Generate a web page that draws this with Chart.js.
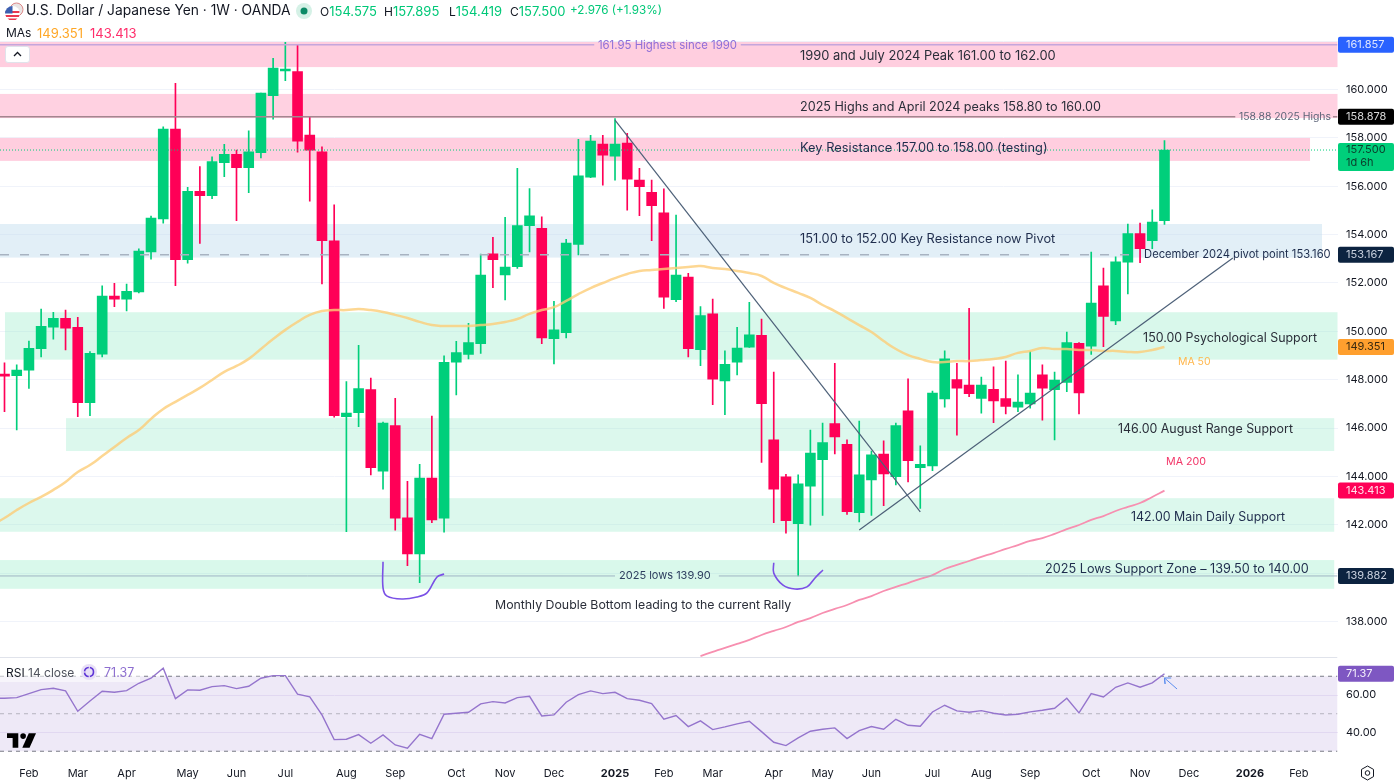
<!DOCTYPE html>
<html>
<head>
<meta charset="utf-8">
<title>USD/JPY 1W</title>
<script src="https://cdn.jsdelivr.net/npm/chart.js@4/dist/chart.umd.min.js"></script>
<style>
	html, body { margin: 0; padding: 0; background: #fff; overflow: hidden; }
	#wrap { position: relative; width: 1395px; height: 782px; font-family: Inter, sans-serif; color: #131722; }
	#wrap canvas { position: absolute; left: 0; top: 0; }
	.over { position: absolute; white-space: nowrap; line-height: 1; }
	.up { color: #00c878; font-size: 13px; }
</style>
</head>
<body>
<div id="wrap">
	<canvas id="usdjpy" width="1395" height="782"></canvas>

	<svg class="over" style="left:4px;top:2px" width="20" height="20" viewBox="0 0 20 20">
		<circle cx="12.5" cy="7.5" r="6.5" fill="#e9e4e4" stroke="#d88" stroke-width="1"/>
		<circle cx="8.5" cy="11.5" r="7.5" fill="#fff"/>
		<path d="M1.6 9h13.8v2H1.2zM1.4 13h14.2l-.8 2H2.2zM3.5 16.5h10l-2 1.6H5.5z" fill="#e8384f"/>
		<path d="M8.5 4A7.5 7.5 0 0 0 1 11.5h7.5z" fill="#3c5fb0"/>
	</svg>
	<div class="over" style="left:26px;top:4px;font-size:13.8px;">U.S. Dollar / Japanese Yen · 1W · OANDA</div>
	<svg class="over" style="left:296px;top:3px" width="16" height="16"><circle cx="8" cy="8" r="8" fill="#d5f1e6"/><circle cx="8" cy="8" r="3.5" fill="#0c8a66"/></svg>
	<div class="over" style="left:320px;top:5px;font-size:12px;">O<span class="up">154.575</span></div>
	<div class="over" style="left:384px;top:5px;font-size:12px;">H<span class="up">157.895</span></div>
	<div class="over" style="left:449px;top:5px;font-size:12px;">L<span class="up">154.419</span></div>
	<div class="over" style="left:510px;top:5px;font-size:12px;">C<span class="up">157.500</span></div>
	<div class="over" style="left:570px;top:5px;font-size:11.7px;color:#00c878;">+2.976 (+1.93%)</div>

	<div class="over" style="left:6px;top:27px;font-size:12px;">MAs</div>
	<div class="over" style="left:37px;top:27px;font-size:13px;color:#ffa726;">149.351</div>
	<div class="over" style="left:90px;top:27px;font-size:13px;color:#ff2d6b;">143.413</div>

	<div class="over" style="left:5px;top:46px;width:25px;height:17px;background:#fff;border:1px solid #e0e3eb;border-radius:3px;box-sizing:border-box;">
		<svg width="23" height="15"><path d="M8 9l3.5-3.5L15 9" fill="none" stroke="#131722" stroke-width="1.3"/></svg>
	</div>

	<div class="over" style="left:0;top:665px;width:140px;height:17px;background:rgba(255,255,255,.55);"></div>
	<div class="over" style="left:6px;top:667px;font-size:12px;">RSI <span style="color:#50535e">14 close</span></div>
	<svg class="over" style="left:81px;top:664px" width="16" height="16"><circle cx="8" cy="8" r="8" fill="#e8e0f6"/><circle cx="8" cy="8" r="4.5" fill="none" stroke="#5e35d6" stroke-width="1.6" stroke-dasharray="6 1.2"/></svg>
	<div class="over" style="left:104px;top:667px;font-size:12.5px;color:#8e6fd0;">71.37</div>

	<svg class="over" style="left:7px;top:733px" width="29" height="15" viewBox="0 0 36 18"><path d="M14 0H0v6h7v12h7V0z" fill="#000"/><circle cx="20" cy="3.5" r="3.5" fill="#000"/><path d="M27 0h9l-8 18h-9z" fill="#000"/></svg>
	<svg class="over" style="left:1360px;top:765px" width="15" height="16" viewBox="0 0 15 16"><path d="M7.5 1l6 3.4v7.2L7.5 15l-6-3.4V4.4z" fill="none" stroke="#131722"/><circle cx="7.5" cy="8" r="2.3" fill="none" stroke="#131722"/></svg>
</div>

<script>
'use strict';

// weekly candles
const openPrices = [
	148.20,148.17,148.39,149.28,150.17,150.54,150.17,147.05,149.06,151.46,
	151.33,151.63,153.29,154.65,158.37,152.96,155.79,155.61,156.98,157.32,
	156.77,157.39,159.75,160.77,160.74,158.12,157.42,153.74,146.47,146.64,
	147.59,144.22,146.10,142.29,140.79,143.93,142.27,148.72,149.05,149.49,
	153.21,152.33,152.67,154.37,154.26,149.70,149.94,153.60,156.38,157.75,
	157.25,157.79,156.26,155.75,154.90,151.31,152.24,149.24,150.72,147.95,
	148.72,149.35,149.84,145.51,143.98,142.05,143.60,144.69,146.18,145.33,
	142.50,143.85,144.92,143.99,146.71,144.36,144.43,147.20,148.00,147.78,
	147.23,147.60,147.22,146.86,147.00,148.20,147.59,147.89,149.50,149.39,
	151.88,150.43,152.86,154.04,153.75,154.575
];
const highPrices = [
	148.70,148.61,149.60,150.92,150.79,150.88,150.58,149.16,151.88,151.99,
	151.95,153.41,154.77,158.46,160.26,155.96,156.81,157.22,157.74,157.50,
	158.29,159.86,161.29,161.95,161.84,158.88,157.63,155.23,147.92,149.42,
	148.07,146.25,147.23,143.80,144.50,146.50,148.99,149.59,150.33,153.20,
	153.89,154.72,156.74,155.90,154.74,151.24,153.81,157.94,158.11,158.11,
	158.80,158.19,156.74,156.26,155.89,154.81,152.40,151.02,151.33,149.19,
	150.17,151.20,150.51,148.31,144.09,144.06,145.92,146.21,148.68,145.51,
	146.29,145.05,145.47,146.21,148.04,145.26,147.53,149.19,148.68,150.95,
	148.11,148.53,148.77,148.20,149.16,148.61,148.31,149.97,149.53,153.28,
	152.62,153.08,154.44,154.48,155.03,157.895
];
const lowPrices = [
	146.68,145.92,147.64,148.94,149.68,149.23,146.47,146.51,148.94,151.02,
	150.84,151.59,152.99,154.47,151.89,152.82,153.64,155.49,156.40,154.58,
	155.74,157.17,158.78,160.37,157.41,155.38,151.96,146.45,141.71,146.06,
	144.06,143.47,141.78,140.31,139.60,142.09,141.69,147.37,148.86,149.09,
	151.81,151.30,152.60,153.29,149.49,148.65,149.73,153.16,156.36,156.05,
	156.25,155.01,154.78,153.75,150.95,151.23,148.94,148.58,146.97,146.55,
	148.20,149.33,144.58,142.09,141.65,139.88,141.98,142.39,144.93,142.43,
	142.12,142.39,142.79,143.65,143.77,142.68,144.24,146.86,145.71,147.30,
	146.62,146.22,146.58,146.68,146.82,146.33,145.51,147.50,146.58,149.05,
	149.37,150.28,151.55,152.84,153.42,154.419
];
const closePrices = [
	148.15,148.40,149.30,150.21,150.54,150.13,147.05,149.09,151.46,151.33,
	151.66,153.32,154.68,158.37,152.96,155.79,155.61,157.02,157.32,156.77,
	157.42,159.86,160.89,160.81,157.87,157.49,153.75,146.51,146.62,147.63,
	144.36,146.21,142.27,140.79,143.93,142.20,148.72,149.12,149.53,152.33,
	152.96,152.66,154.37,154.78,149.73,150.06,153.65,156.43,157.87,157.29,
	157.75,156.29,155.98,155.20,151.41,152.33,149.28,150.65,148.02,148.64,
	149.31,149.86,147.01,143.47,142.17,143.69,144.96,145.40,145.63,142.54,
	144.06,144.89,144.10,146.10,144.65,144.50,147.45,148.86,147.65,147.42,
	147.78,147.12,146.89,147.07,147.45,147.65,147.98,149.53,147.45,151.17,
	150.62,152.88,154.04,153.42,154.52,157.50
];

// both start one week earlier than the candles, that week is off the left edge
const ma50Values = [
	142.00,
	142.28,142.61,142.90,143.15,143.44,143.77,144.18,144.47,144.84,145.22,
	145.59,145.92,146.38,146.79,147.08,147.37,147.66,147.99,148.32,148.57,
	148.86,149.27,149.68,150.06,150.39,150.68,150.84,150.88,150.88,150.92,
	150.88,150.80,150.68,150.55,150.39,150.26,150.22,150.22,150.22,150.26,
	150.30,150.39,150.51,150.72,150.88,151.00,151.26,151.54,151.79,152.00,
	152.20,152.37,152.50,152.54,152.58,152.62,152.66,152.70,152.62,152.58,
	152.50,152.41,152.29,152.00,151.79,151.59,151.38,151.09,150.84,150.55,
	150.26,149.97,149.60,149.27,149.02,148.86,148.73,148.73,148.77,148.77,
	148.81,148.86,148.94,149.11,149.19,149.31,149.27,149.27,149.23,149.23,
	149.19,149.19,149.15,149.15,149.23,149.351
];
const rsiValues = [
	58.20,
	58.26,58.62,60.75,62.88,63.60,62.17,51.33,56.84,61.99,61.46,
	62.35,66.26,68.93,74.26,58.08,62.71,62.53,64.48,65.02,63.42,
	64.66,68.93,70.35,70.35,60.40,58.97,49.37,36.22,36.40,38.88,
	34.26,38.71,33.37,31.60,39.06,36.75,49.73,50.26,50.80,55.24,
	56.48,55.77,58.62,59.33,48.84,49.37,56.13,60.22,62.17,60.75,
	61.46,58.08,57.20,55.42,47.06,49.02,43.15,46.17,41.55,42.97,
	44.57,45.99,40.48,34.80,33.02,37.11,40.66,41.73,42.44,36.75,
	41.02,43.15,41.73,47.06,43.86,43.33,50.97,54.53,51.51,50.80,
	51.68,50.26,49.37,49.73,50.97,51.86,52.93,58.26,50.44,60.75,
	58.97,64.13,66.44,64.13,66.44,71.37
];
// only the part above the pane bottom, first value is candle 57
const ma200Start = 57;
const ma200Values = [
	136.57,136.74,136.91,137.07,137.24,137.44,137.61,137.77,137.98,138.14,
	138.35,138.52,138.68,138.89,139.05,139.26,139.43,139.59,139.76,139.92,
	140.17,140.34,140.50,140.67,140.83,141.00,141.16,141.33,141.45,141.62,
	141.82,141.99,142.20,142.36,142.57,142.74,142.90,143.15,143.413
];

const monthTicks = [2,6,10,15,19,23,28,32,37,41,45,50,54,58,63,67,71,76,80,84,89,93,97,102,106];
const monthLabels = ['Feb','Mar','Apr','May','Jun','Jul','Aug','Sep','Oct','Nov','Dec','2025','Feb','Mar','Apr','May','Jun','Jul','Aug','Sep','Oct','Nov','Dec','2026','Feb'];
const priceTicks = [138,140,142,144,146,148,150,152,154,156,158,160,162];
const rsiTicks = [40,60];

// zones: price low, price high, first candle, last candle
const zoneLows = [160.93,158.82,157.05,153.05,148.83,145.05,141.71,139.35];
const zoneHighs = [161.97,159.82,158.00,154.44,150.79,146.41,143.10,140.54];
const zoneStarts = [-1,-1,-1,-1,0.04,5.04,-1,-1];
const zoneEnds = [110,110,106.92,107.9,110,108.9,108.9,108.9];
const zoneColors = [
	'rgba(255,190,212,.75)','rgba(255,190,212,.7)','rgba(255,190,212,.75)',
	'rgba(190,220,238,.45)','rgba(150,235,200,.36)','rgba(150,235,200,.33)','rgba(150,235,200,.33)','rgba(150,235,200,.36)'
];

const xMin = -0.3686;
const xMax = 109.17;

const upColor = '#00cf7b';
const downColor = '#ff0057';
const isUp = i => closePrices[i] >= openPrices[i];
const candleColor = ctx => isUp(ctx.dataIndex) ? upColor : downColor;

const notes = [
	['1990 and July 2024 Peak 161.00 to 162.00', 65.15, 161.39, '#2a2e39', 12.9],
	['2025 Highs and April 2024 peaks 158.80 to 160.00', 65.15, 159.28, '#2a2e39', 12.6],
	['Key Resistance 157.00 to 158.00 (testing)', 65.15, 157.58, '#1f2d4d', 12.85],
	['151.00 to 152.00 Key Resistance now Pivot', 65.15, 153.82, '#1f2d4d', 12.8],
	['December 2024 pivot point 153.160', 93.33, 153.16, '#1f2d4d', 11.2],
	['150.00 Psychological Support', 93.25, 149.72, '#2a2e39', 12.4],
	['MA 50', 96.1, 148.73, '#ffb74d', 10.5],
	['146.00 August Range Support', 91.2, 145.96, '#2a2e39', 12.4],
	['MA 200', 95.13, 144.6, '#f23668', 10.7],
	['142.00 Main Daily Support', 92.26, 142.32, '#1f2d4d', 12.4],
	['2025 Lows Support Zone – 139.50 to 140.00', 85.22, 140.17, '#1f2d4d', 12.66],
	['Monthly Double Bottom leading to the current Rally', 40.17, 138.68, '#2a2e39', 12.33],
	['2025 lows 139.90', 50.33, 139.88, '#2f4060', 11],
	['161.95 Highest since 1990', 48.6, 161.84, '#8f6fd8', 11.4],
	['158.88 2025 Highs', 101.1, 158.87, '#5d6478', 10.4]
];

// price tags on the axis: value, background, text
const priceTags = [
	[161.857, '#2962ff', '#dfe7ff'],
	[158.878, '#000000', '#d8d8d8'],
	[153.167, '#0c2340', '#c8d0dd'],
	[149.351, '#ff9f2e', '#3a2a10'],
	[143.413, '#ff0057', '#ffe0ea'],
	[139.882, '#0c2340', '#c8d0dd']
];

function segment(x1, y1, x2, y2, color, width, dash, order) {
	return {
		type: 'line',
		data: [{x: x1, y: y1}, {x: x2, y: y2}],
		borderColor: color,
		borderWidth: width,
		borderDash: dash || [],
		pointRadius: 0,
		order: order || 2
	};
}

function roundBox(ctx, x, y, w, h) {
	ctx.beginPath();
	ctx.roundRect(x, y, w, h, 2);
	ctx.fill();
}

// the tick padding must not eat into the panes
function fitRightAxis(scale) {
	scale.width = 57.5;
	scale.paddingTop = 0;
	scale.paddingBottom = 0;
}

const panePlugin = {
	id: 'panePlugin',
	beforeDatasetsDraw(chart) {
		const {ctx, chartArea, scales: {x, y, yRsi}} = chart;
		ctx.save();
		ctx.beginPath();
		ctx.rect(chartArea.left, chartArea.top, chartArea.width, chartArea.height);
		ctx.clip();
		zoneLows.forEach((low, i) => {
			const left = x.getPixelForValue(zoneStarts[i]);
			const right = x.getPixelForValue(zoneEnds[i]);
			const top = y.getPixelForValue(zoneHighs[i]);
			ctx.fillStyle = zoneColors[i];
			ctx.fillRect(left, top, right - left, y.getPixelForValue(low) - top);
		});
		// rsi band between 70 and 30
		const bandTop = yRsi.getPixelForValue(70);
		ctx.fillStyle = 'rgba(126,87,194,.13)';
		ctx.fillRect(chartArea.left, bandTop, chartArea.width, yRsi.getPixelForValue(30) - bandTop);
		// pane separator
		ctx.fillStyle = '#e0e3eb';
		ctx.fillRect(chartArea.left, yRsi.top, chartArea.width, 1);
		ctx.restore();
	},
	afterDatasetsDraw(chart) {
		const {ctx, scales: {x, y}} = chart;
		ctx.save();
		ctx.textBaseline = 'middle';
		ctx.textAlign = 'left';
		notes.forEach(([text, idx, price, color, size]) => {
			ctx.font = size + 'px Inter, sans-serif';
			ctx.fillStyle = color;
			ctx.fillText(text, x.getPixelForValue(idx), y.getPixelForValue(price));
		});
		ctx.restore();
	},
	afterDraw(chart) {
		const {ctx, chartArea, scales: {y, yRsi}} = chart;
		const left = chartArea.right + 0.5;
		const textX = left + 8;
		ctx.save();
		ctx.font = '11px Inter, sans-serif';
		ctx.textBaseline = 'middle';
		ctx.textAlign = 'left';
		priceTags.forEach(([value, bg, fg]) => {
			const mid = y.getPixelForValue(value);
			ctx.fillStyle = bg;
			roundBox(ctx, left, mid - 8, 56, 16);
			ctx.fillStyle = fg;
			ctx.fillText(value.toFixed(3), textX, mid);
		});
		// last close tag with the countdown under it
		const lastClose = closePrices[closePrices.length - 1];
		const closeMid = y.getPixelForValue(lastClose);
		ctx.fillStyle = upColor;
		roundBox(ctx, left, closeMid - 7, 56, 28);
		ctx.fillStyle = '#0b3d2c';
		ctx.fillText(lastClose.toFixed(3), textX, closeMid);
		ctx.fillText('1d 6h', textX, closeMid + 13);
		// rsi tag
		const lastRsi = rsiValues[rsiValues.length - 1];
		const rsiMid = yRsi.getPixelForValue(lastRsi);
		ctx.fillStyle = '#7e57c2';
		roundBox(ctx, left, rsiMid - 8, 56, 16);
		ctx.fillStyle = '#f3eefb';
		ctx.fillText(lastRsi.toFixed(2), textX, rsiMid);
		ctx.restore();
	}
};

document.addEventListener('DOMContentLoaded', function() {
	const weeks = openPrices.map((v, i) => i);
	const slate = '#4d6078';
	const lineDefaults = {type: 'line', pointRadius: 0, tension: 0};

	const datasets = [
		// wicks and bodies
		{
			data: weeks.map(i => ({x: i, y: [lowPrices[i], highPrices[i]]})),
			backgroundColor: candleColor,
			barThickness: 1,
			grouped: false,
			order: 6
		},
		{
			data: weeks.map(i => ({x: i, y: [openPrices[i], closePrices[i]]})),
			backgroundColor: candleColor,
			barThickness: 10,
			minBarLength: 2,
			grouped: false,
			order: 5
		},
		// moving averages
		{...lineDefaults, tension: 0.5, data: ma50Values.map((v, i) => ({x: i - 1, y: v})), borderColor: 'rgba(252,205,120,.8)', borderWidth: 2.5, order: 3},
		{...lineDefaults, tension: 0.5, data: ma200Values.map((v, i) => ({x: ma200Start + i, y: v})), borderColor: '#f78fb0', borderWidth: 1.8, order: 3},
		// levels
		segment(xMin, 161.857, 48.3, 161.857, '#c4a6dc', 1.5),
		segment(60.3, 161.857, xMax, 161.857, '#c4a6dc', 1.5),
		segment(xMin, 158.878, 100.8, 158.878, '#a4868f', 1.5),
		segment(108.8, 158.878, xMax, 158.878, '#a4868f', 1.5),
		segment(xMin, 157.5, xMax, 157.5, upColor, 1, [1, 2], 1),
		segment(xMin, 153.167, 92.2, 153.167, '#a8b3c1', 1.5, [9, 11]),
		segment(xMin, 139.882, 50, 139.882, '#9fb4c4', 1),
		segment(58.5, 139.882, xMax, 139.882, '#9fb4c4', 1),
		// trend lines
		segment(50, 158.74, 75, 142.53, slate, 1.2, null, 1),
		segment(70, 141.78, 100.6, 153.03, slate, 1.2, null, 1),
		// double bottom marks
		{...lineDefaults, tension: 0.35, data: [
			{x: 31.0, y: 140.47}, {x: 31.0, y: 139.39}, {x: 31.33, y: 139.05}, {x: 32.55, y: 138.93},
			{x: 33.78, y: 139.01}, {x: 34.6, y: 139.18}, {x: 35.42, y: 139.84}, {x: 36.0, y: 139.96}
		], borderColor: '#7a50e6', borderWidth: 1.6, order: 1},
		{...lineDefaults, tension: 0.35, data: [
			{x: 63.0, y: 140.43}, {x: 63.0, y: 140.0}, {x: 63.76, y: 139.5}, {x: 64.74, y: 139.34},
			{x: 65.72, y: 139.43}, {x: 66.38, y: 139.8}, {x: 67.03, y: 140.13}
		], borderColor: '#7a50e6', borderWidth: 1.6, order: 1},
		// rsi pane
		{...lineDefaults, yAxisID: 'yRsi', data: rsiValues.map((v, i) => ({x: i - 1, y: v})), borderColor: '#9575cd', borderWidth: 1.4, order: 1},
		{...segment(xMin, 70, xMax, 70, '#787b86', 1, [4, 4]), yAxisID: 'yRsi'},
		{...segment(xMin, 50, xMax, 50, '#b5b3bf', 1, [4, 4]), yAxisID: 'yRsi'},
		{...segment(xMin, 30, xMax, 30, '#787b86', 1, [4, 4]), yAxisID: 'yRsi'},
		{...lineDefaults, yAxisID: 'yRsi', data: [
			{x: 96.03, y: 63.2}, {x: 95.0, y: 69.07}, {x: 95.05, y: 65.9}, {x: 95.0, y: 69.07}, {x: 95.55, y: 69.07}
		], borderColor: '#5b8def', borderWidth: 1, order: 1}
	];

	new Chart(document.getElementById('usdjpy'), {
		type: 'bar',
		data: {datasets},
		options: {
			responsive: false,
			animation: false,
			layout: {padding: 0},
			plugins: {legend: {display: false}, tooltip: {enabled: false}},
			scales: {
				x: {
					type: 'linear',
					min: xMin,
					max: xMax,
					offset: false,
					grid: {display: false, offset: false, drawTicks: false},
					border: {display: false},
					afterBuildTicks: scale => {
						scale.ticks = monthTicks.map(v => ({value: v}));
					},
					afterFit: scale => {
						scale.height = 22;
						scale.paddingLeft = 0;
						scale.paddingRight = 0;
					},
					ticks: {
						autoSkip: false,
						maxRotation: 0,
						padding: 7,
						color: '#131722',
						font: ctx => ({
							family: 'Inter, sans-serif',
							size: 11,
							weight: ctx.tick && monthLabels[monthTicks.indexOf(ctx.tick.value)].length === 4 ? 'bold' : 'normal'
						}),
						callback: v => monthLabels[monthTicks.indexOf(v)]
					}
				},
				y: {
					position: 'right',
					stack: 'panes',
					stackWeight: 657,
					min: 136.53,
					max: 163.705,
					border: {display: false},
					grid: {color: '#f0f3fa', drawTicks: false},
					afterBuildTicks: scale => {
						scale.ticks = priceTicks.map(v => ({value: v}));
					},
					afterFit: fitRightAxis,
					ticks: {
						padding: 8.5,
						color: '#131722',
						font: {family: 'Inter, sans-serif', size: 11},
						callback: v => v.toFixed(3)
					}
				},
				yRsi: {
					position: 'right',
					stack: 'panes',
					stackWeight: 103,
					min: 25.33,
					max: 80.27,
					border: {display: false},
					grid: {color: '#f0ecf8', drawTicks: false},
					afterBuildTicks: scale => {
						scale.ticks = rsiTicks.map(v => ({value: v}));
					},
					afterFit: fitRightAxis,
					ticks: {
						padding: 8.5,
						color: '#131722',
						font: {family: 'Inter, sans-serif', size: 11},
						callback: v => v.toFixed(2)
					}
				}
			}
		},
		plugins: [panePlugin]
	});
});
</script>
</body>
</html>
